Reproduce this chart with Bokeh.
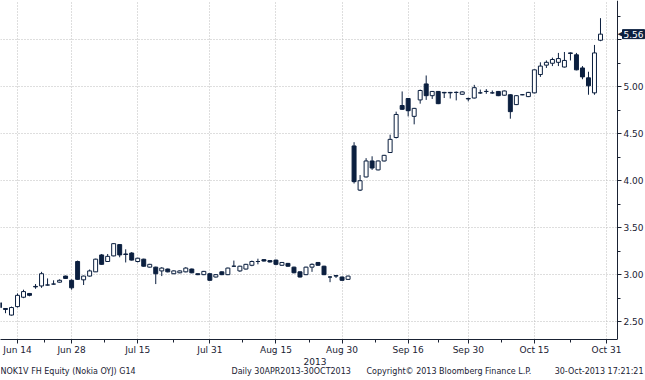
import pandas as pd
from bokeh.plotting import figure
from bokeh.layouts import column
from bokeh.models import (ColumnDataSource, Range1d, FixedTicker, NumeralTickFormatter,
                          Label, BoxAnnotation)
from bokeh.core.properties import value
from bokeh.embed import file_html
from bokeh.resources import INLINE

# Helsinki trading days (Midsummer Eve closed)
trading_days = [d for d in pd.bdate_range("2013-06-11", "2013-10-31")
                if d != pd.Timestamp("2013-06-21")]

opens = [2.70, 2.64, 2.57, 2.66, 2.76, 2.80, 2.875, 2.88, 2.89, 2.90,
         2.92, 2.985, 2.94, 3.14, 2.945, 2.985, 3.03, 3.21, 3.14, 3.20,
         3.32, 3.22, 3.23, 3.14, 3.165, 3.08, 3.08, 3.04, 3.06, 3.01,
         3.02, 3.03, 3.06, 3.01, 3.00, 3.01, 2.975, 3.03, 3.00, 3.09,
         3.04, 3.06, 3.10, 3.14, 3.16, 3.15, 3.155, 3.10, 3.12, 3.08,
         3.03, 3.00, 3.08, 3.13, 3.09, 2.975, 2.99, 2.975, 2.95, 4.37,
         3.90, 4.04, 4.21, 4.115, 4.21, 4.30, 4.46, 4.80, 4.875, 4.685,
         4.86, 5.03, 4.905, 4.95, 4.94, 4.94, 4.94, 4.92, 4.875, 4.88,
         4.935, 4.95, 4.935, 4.95, 4.91, 4.915, 4.81, 4.915, 4.895, 4.935,
         5.13, 5.23, 5.25, 5.26, 5.21, 5.36, 5.34, 5.20, 5.095, 4.935,
         5.495]
highs = [2.71, 2.645, 2.66, 2.80, 2.84, 2.805, 2.90, 3.03, 2.96, 2.94,
         2.95, 2.99, 2.95, 3.15, 2.99, 3.055, 3.17, 3.22, 3.22, 3.335,
         3.325, 3.27, 3.24, 3.18, 3.17, 3.115, 3.085, 3.08, 3.065, 3.045,
         3.045, 3.08, 3.065, 3.01, 3.04, 3.015, 3.005, 3.035, 3.075, 3.15,
         3.095, 3.115, 3.15, 3.17, 3.165, 3.155, 3.16, 3.135, 3.125, 3.085,
         3.035, 3.085, 3.12, 3.135, 3.095, 2.985, 2.995, 2.98, 2.99, 4.41,
         4.06, 4.24, 4.26, 4.215, 4.275, 4.49, 4.735, 4.95, 4.88, 4.775,
         4.97, 5.12, 4.955, 4.955, 4.945, 4.945, 4.95, 4.95, 4.885, 5.02,
         4.97, 4.975, 4.96, 4.955, 4.96, 4.92, 4.91, 4.92, 4.945, 5.185,
         5.26, 5.28, 5.31, 5.36, 5.37, 5.365, 5.36, 5.22, 5.16, 5.445,
         5.73]
lows = [2.64, 2.59, 2.565, 2.65, 2.75, 2.77, 2.85, 2.86, 2.885, 2.895,
        2.915, 2.955, 2.84, 2.945, 2.89, 2.98, 3.03, 3.105, 3.135, 3.195,
        3.185, 3.13, 3.15, 3.13, 3.085, 3.075, 2.90, 2.985, 3.025, 3.005,
        3.015, 3.025, 3.015, 2.995, 2.995, 2.935, 2.97, 2.995, 2.995, 3.085,
        3.03, 3.055, 3.09, 3.11, 3.14, 3.13, 3.10, 3.095, 3.085, 3.015,
        2.97, 2.995, 3.03, 3.095, 2.995, 2.92, 2.965, 2.935, 2.945, 3.97,
        3.89, 4.035, 4.115, 4.11, 4.205, 4.295, 4.45, 4.755, 4.685, 4.60,
        4.82, 4.86, 4.87, 4.815, 4.88, 4.875, 4.855, 4.915, 4.845, 4.875,
        4.925, 4.925, 4.925, 4.90, 4.905, 4.66, 4.805, 4.91, 4.89, 4.93,
        5.105, 5.20, 5.22, 5.22, 5.205, 5.28, 5.175, 5.08, 4.915, 4.915,
        5.485]
closes = [2.65, 2.63, 2.65, 2.78, 2.82, 2.78, 2.87, 3.01, 2.89, 2.90,
          2.94, 2.96, 2.86, 2.95, 2.985, 3.04, 3.165, 3.11, 3.195, 3.33,
          3.21, 3.215, 3.155, 3.175, 3.09, 3.11, 3.01, 3.07, 3.03, 3.04,
          3.04, 3.07, 3.02, 3.00, 3.035, 2.94, 3.00, 3.00, 3.07, 3.09,
          3.09, 3.11, 3.14, 3.14, 3.145, 3.135, 3.11, 3.13, 3.09, 3.02,
          2.975, 3.08, 3.11, 3.10, 3.00, 2.975, 2.985, 2.94, 2.985, 3.99,
          4.00, 4.21, 4.135, 4.21, 4.27, 4.44, 4.705, 4.76, 4.745, 4.77,
          4.96, 4.905, 4.95, 4.82, 4.935, 4.935, 4.94, 4.945, 4.87, 4.99,
          4.935, 4.95, 4.935, 4.905, 4.955, 4.735, 4.905, 4.915, 4.94, 5.18,
          5.22, 5.26, 5.29, 5.30, 5.28, 5.355, 5.18, 5.105, 5.01, 5.36,
          5.56]

tick_dates = ["2013-06-14", "2013-06-28", "2013-07-15", "2013-07-31", "2013-08-15",
              "2013-08-30", "2013-09-16", "2013-09-30", "2013-10-15", "2013-10-31"]
tick_labels = ["Jun 14", "Jun 28", "Jul 15", "Jul 31", "Aug 15",
               "Aug 30", "Sep 16", "Sep 30", "Oct 15", "Oct 31"]
y_ticks = [2.5, 3.0, 3.5, 4.0, 4.5, 5.0, 5.5]
last_price = 5.56
year_label = "2013"
footer_texts = ["NOK1V FH Equity (Nokia OYJ) G14", "Daily 30APR2013-30OCT2013",
                "Copyright\u00a9 2013 Bloomberg Finance L.P.", "30-Oct-2013 17:21:21"]

NAVY = "#0b1f3f"
TEXT = "#1a2233"
FONT = "DejaVu Sans"
W = 645
MAIN_H = 357
FOOT_H = 380 - MAIN_H
AXIS_PX = 617                      # pixel column of the price axis
X0, X_AXIS = 0.17, 102.83          # index range shown left of the price axis
X1 = X0 + (X_AXIS - X0) * W / AXIS_PX
Y0, Y1 = 2.31, 5.918

n = len(opens)
xs = list(range(n))
src = ColumnDataSource(dict(
    x=xs, o=opens, h=highs, l=lows, c=closes,
    top=[max(a, b) for a, b in zip(opens, closes)],
    bottom=[min(a, b) for a, b in zip(opens, closes)],
    fill=["white" if c >= o else NAVY for o, c in zip(opens, closes)],
))

p = figure(width=W, height=MAIN_H, output_backend="svg", toolbar_location=None,
           x_range=Range1d(X0, X1), y_range=Range1d(Y0, Y1),
           y_axis_location="right",
           min_border_left=0, min_border_right=0, min_border_top=0, min_border_bottom=0)
p.outline_line_color = None
p.background_fill_color = "white"

# mask grid to the right of the price axis
p.add_layout(BoxAnnotation(left=X_AXIS, fill_color="white", fill_alpha=1.0,
                           line_color=None, level="underlay"))

p.segment(x0="x", y0="h", x1="x", y1="l", source=src, line_color=NAVY, line_width=1)
p.vbar(x="x", width=0.66, top="top", bottom="bottom", source=src,
       fill_color="fill", line_color=NAVY, line_width=1)

# x axis ticks by trading-day index
date_index = {d.strftime("%Y-%m-%d"): i for i, d in enumerate(trading_days)}
major_x = [date_index[d] for d in tick_dates]
minor_x = [(a + b) / 2 for a, b in zip(major_x, major_x[1:])]
xt = FixedTicker(ticks=major_x, minor_ticks=minor_x)
p.xaxis.ticker = xt
p.xaxis.major_label_overrides = {k: v for k, v in zip(major_x, tick_labels)}
p.xaxis.major_label_standoff = 1
p.xaxis.bounds = (X0, X_AXIS)

minor_y = [(a + b) / 2 for a, b in zip(y_ticks, y_ticks[1:])] + [y_ticks[-1] + 0.25]
yt = FixedTicker(ticks=y_ticks, minor_ticks=minor_y)
p.yaxis.ticker = yt
p.yaxis.formatter = NumeralTickFormatter(format="0.00")
p.yaxis.major_label_overrides = {5.5: ""}
p.yaxis.major_label_standoff = 2
p.yaxis.fixed_location = X_AXIS

for ax in (p.xaxis[0], p.yaxis[0]):
    ax.axis_line_color = TEXT
    ax.axis_line_width = 1
    ax.major_tick_line_color = TEXT
    ax.minor_tick_line_color = TEXT
    ax.major_tick_out = 4
    ax.major_tick_in = 0
    ax.minor_tick_out = 3
    ax.minor_tick_in = 0
    ax.major_label_text_font = FONT
    ax.major_label_text_font_size = "9px"
    ax.major_label_text_color = TEXT

p.xgrid.ticker = xt
p.ygrid.ticker = yt
for g in (p.xgrid[0], p.ygrid[0]):
    g.grid_line_color = "#bdbdbd"
    g.grid_line_dash = "1 2"
    g.grid_line_width = 1

# last price tag
p.add_layout(Label(x=X_AXIS, y=last_price, text="\u25C0", x_offset=0,
                   text_baseline="middle", text_align="left",
                   text_color=NAVY, text_font=FONT, text_font_size="7px"))
p.add_layout(Label(x=X_AXIS, y=last_price, text=f"{last_price:.2f}", x_offset=5,
                   text_baseline="middle", text_align="left",
                   text_color="white", text_font=FONT, text_font_size="9px",
                   background_fill_color=NAVY, border_line_color=NAVY, padding=1))

# footer strip
f = figure(width=W, height=FOOT_H, output_backend="svg", toolbar_location=None,
           x_range=Range1d(0, W), y_range=Range1d(0, FOOT_H),
           min_border_left=0, min_border_right=0, min_border_top=0, min_border_bottom=0)
f.axis.visible = False
f.grid.visible = False
f.outline_line_color = None
f.text(x=[AXIS_PX / 2 + 6], y=[FOOT_H - 4], text=[year_label], text_align="center",
       text_baseline="middle", text_font=value(FONT), text_font_size="9px", text_color=TEXT)
f.text(x=[0, 231, 366], y=[FOOT_H - 14] * 3, text=footer_texts[:3], text_align="left",
       text_baseline="middle", text_font=value(FONT), text_font_size="8px", text_color=TEXT)
f.text(x=[W - 2], y=[FOOT_H - 14], text=footer_texts[3:], text_align="right",
       text_baseline="middle", text_font=value(FONT), text_font_size="8px", text_color=TEXT)

layout = column(p, f, spacing=0)
open("out.html", "w").write(file_html(layout, INLINE))
